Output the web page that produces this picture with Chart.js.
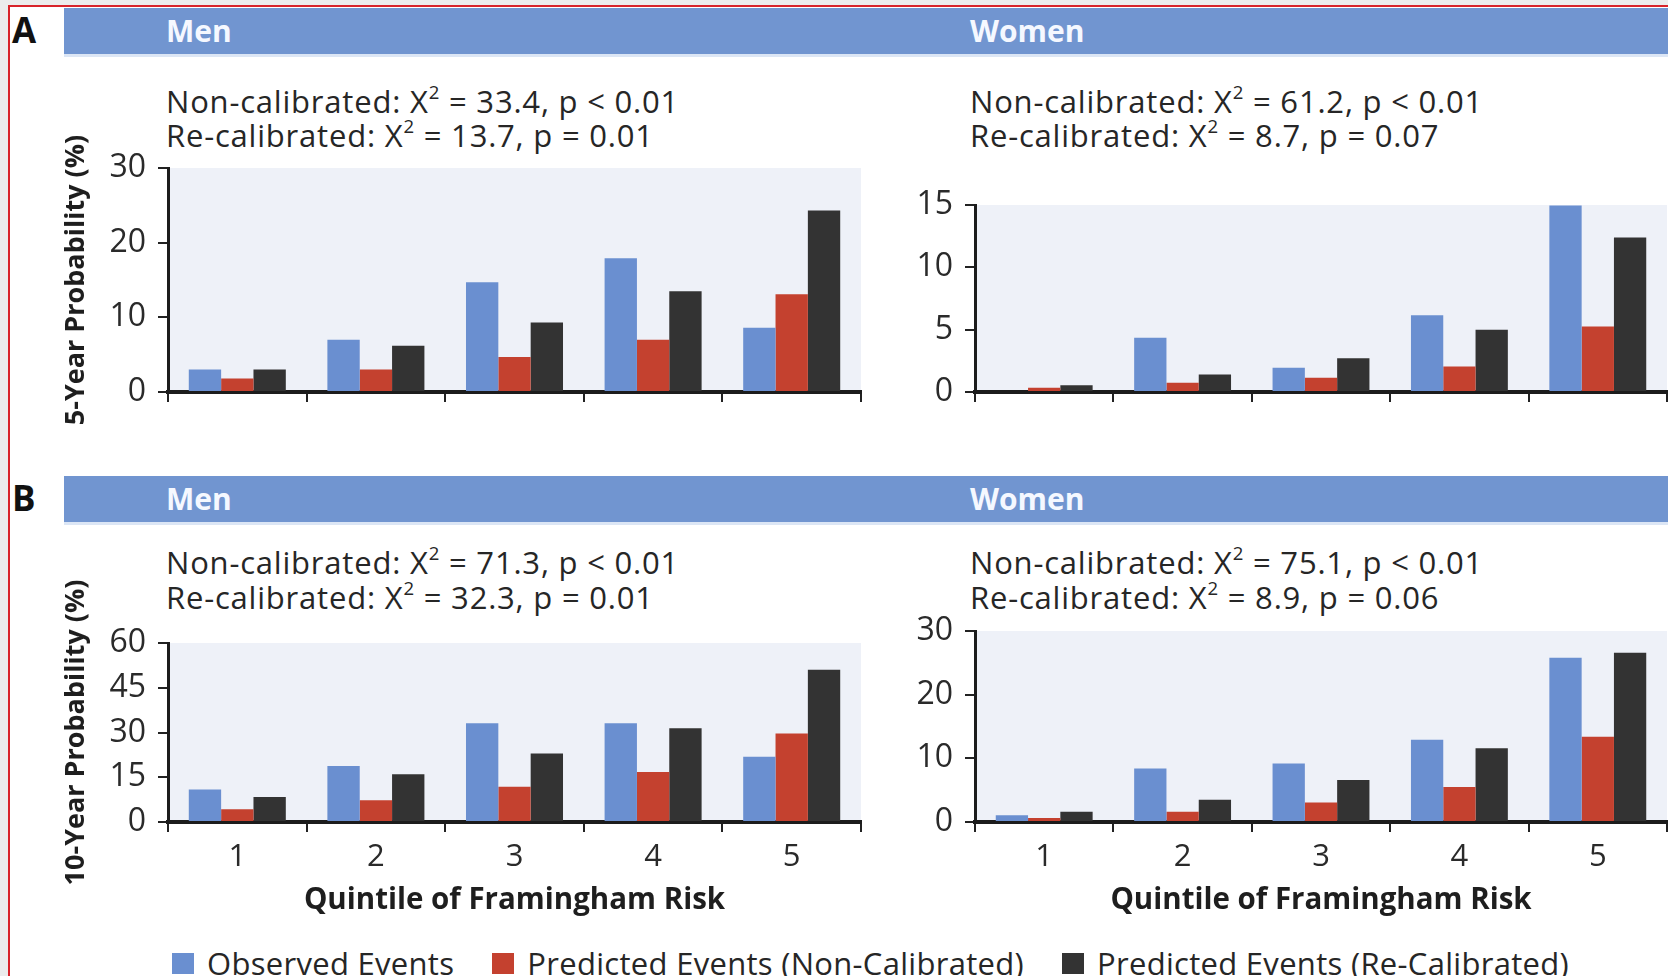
<!DOCTYPE html>
<html>
<head>
<meta charset="utf-8">
<script src="https://cdn.jsdelivr.net/npm/chart.js@4.4.1/dist/chart.umd.min.js"></script>
<style>
  html, body {
    margin: 0;
    padding: 0;
    width: 1668px;
    height: 976px;
    overflow: hidden;
    background: #ececec;
    font-family: "Open Sans", "Noto Sans", sans-serif;
    color: #222;
  }
  #Frame {
    position: absolute;
    left: 8px;
    top: 5px;
    width: 1700px;
    height: 1000px;
    background: #fff;
    border-left: 2px solid #d8232a;
    border-top: 2px solid #d8232a;
  }
  .Letter {
    position: absolute;
    left: 12px;
    font-size: 35px;
    font-weight: 700;
    line-height: 40px;
    color: #111;
  }
  .Band {
    position: absolute;
    left: 64px;
    width: 1620px;
    height: 46px;
    background: #7195d0;
    box-shadow: 0 3px 0 #dce6f5;
  }
  .BandLabel {
    position: absolute;
    top: 0;
    line-height: 46px;
    font-size: 30px;
    font-weight: 700;
    color: #f5f8ff;
  }
  .Stat {
    position: absolute;
    font-size: 31px;
    font-weight: 500;
    letter-spacing: 0.8px;
    white-space: nowrap;
    color: #262626;
  }
  .Stat .Sup {
    font-size: 0.6em;
    line-height: 0;
    vertical-align: 0.75em;
  }
  canvas {
    position: absolute;
  }
  #Legend {
    position: absolute;
    left: 172px;
    top: 942px;
    display: flex;
    align-items: center;
    font-size: 31px;
    font-weight: 500;
    letter-spacing: 0.3px;
    white-space: nowrap;
    color: #262626;
  }
  .LegendItem {
    display: flex;
    align-items: center;
    margin-right: 38px;
  }
  .LegendSwatch {
    width: 22px;
    height: 21px;
    margin-right: 13px;
  }
</style>
</head>
<body>
<div id="Frame"></div>

<div class="Letter" style="top:10px">A</div>
<div class="Band" style="top:8px">
  <div class="BandLabel" style="left:102px">Men</div>
  <div class="BandLabel" style="left:906px">Women</div>
</div>
<div class="Stat" style="left:166px; top:84px; line-height:34px">
  Non-calibrated: X<span class="Sup">2</span> = 33.4, p &lt; 0.01<br>Re-calibrated: X<span class="Sup">2</span> = 13.7, p = 0.01
</div>
<div class="Stat" style="left:970px; top:84px; line-height:34px">
  Non-calibrated: X<span class="Sup">2</span> = 61.2, p &lt; 0.01<br>Re-calibrated: X<span class="Sup">2</span> = 8.7, p = 0.07
</div>

<div class="Letter" style="top:478px">B</div>
<div class="Band" style="top:476px">
  <div class="BandLabel" style="left:102px">Men</div>
  <div class="BandLabel" style="left:906px">Women</div>
</div>
<div class="Stat" style="left:166px; top:545px; line-height:35px">
  Non-calibrated: X<span class="Sup">2</span> = 71.3, p &lt; 0.01<br>Re-calibrated: X<span class="Sup">2</span> = 32.3, p = 0.01
</div>
<div class="Stat" style="left:970px; top:545px; line-height:35px">
  Non-calibrated: X<span class="Sup">2</span> = 75.1, p &lt; 0.01<br>Re-calibrated: X<span class="Sup">2</span> = 8.9, p = 0.06
</div>

<canvas id="Men5"></canvas>
<canvas id="Women5"></canvas>
<canvas id="Men10"></canvas>
<canvas id="Women10"></canvas>

<div id="Legend"></div>

<script>
const quintiles = ["1", "2", "3", "4", "5"];
const seriesNames = [
  "Observed Events",
  "Predicted Events (Non-Calibrated)",
  "Predicted Events (Re-Calibrated)",
];

// 5-year probability (%)
const men5Observed = [3.0, 7.0, 14.7, 17.9, 8.6];
const men5NonCalibrated = [1.8, 3.0, 4.7, 7.0, 13.1];
const men5ReCalibrated = [3.0, 6.2, 9.3, 13.5, 24.3];
const women5Observed = [0, 4.35, 1.95, 6.15, 14.95];
const women5NonCalibrated = [0.35, 0.75, 1.15, 2.05, 5.25];
const women5ReCalibrated = [0.55, 1.4, 2.7, 5.0, 12.4];

// 10-year probability (%)
const men10Observed = [10.9, 18.8, 33.1, 33.1, 21.9];
const men10NonCalibrated = [4.3, 7.3, 11.8, 16.8, 29.7];
const men10ReCalibrated = [8.4, 16.0, 23.0, 31.4, 51.0];
const women10Observed = [1.05, 8.4, 9.2, 12.9, 25.8];
const women10NonCalibrated = [0.63, 1.6, 3.05, 5.5, 13.4];
const women10ReCalibrated = [1.6, 3.5, 6.6, 11.6, 26.6];

// y tick labels per panel
const men5Ticks = [0, 10, 20, 30];
const women5Ticks = [0, 5, 10, 15];
const men10Ticks = [0, 15, 30, 45, 60];
const women10Ticks = [0, 10, 20, 30];

const seriesColors = ["#6a8fd0", "#c4412f", "#333333"];
const fontFamily = '"Open Sans", "Noto Sans", sans-serif';

const plotBackground = {
  id: "plotBackground",
  beforeDraw(chart) {
    const { ctx, chartArea } = chart;
    ctx.save();
    ctx.fillStyle = "#eef1f8";
    ctx.fillRect(chartArea.left, chartArea.top, chartArea.width, chartArea.height);
    ctx.restore();
  },
};

// area = where the plot box should land on the page
function drawPanel(id, area, series, ticks, yTitle, showXLabels) {
  const canvas = document.getElementById(id);
  const yWidth = 105;
  const padTop = 90;
  const xHeight = showXLabels ? 96 : 60;
  const left = area.left - yWidth;
  const top = area.top - padTop;
  const width = area.right + 3 - left;
  const height = area.bottom + xHeight - top;

  canvas.style.left = left + "px";
  canvas.style.top = top + "px";
  canvas.width = width;
  canvas.height = height;

  const step = ticks[1] - ticks[0];

  return new Chart(canvas, {
    type: "bar",
    data: {
      labels: quintiles,
      datasets: series.map((values, index) => ({
        label: seriesNames[index],
        data: values,
        backgroundColor: seriesColors[index],
        categoryPercentage: 0.7,
        barPercentage: 1.0,
      })),
    },
    plugins: [plotBackground],
    options: {
      responsive: false,
      animation: false,
      layout: {
        padding: { top: padTop, right: 3, left: 0, bottom: 0 },
      },
      plugins: {
        legend: { display: false },
        tooltip: { enabled: false },
      },
      scales: {
        x: {
          afterFit: (scale) => {
            scale.height = xHeight;
          },
          grid: {
            offset: true,
            drawOnChartArea: false,
            tickLength: 10,
            lineWidth: 2,
            color: "#222",
          },
          border: { color: "#1c1c1c", width: 4 },
          ticks: {
            display: showXLabels,
            padding: 7,
            color: "#2a2a2a",
            font: { family: fontFamily, size: 31 },
          },
          title: {
            display: showXLabels,
            text: "Quintile of Framingham Risk",
            color: "#1e1e1e",
            padding: { top: 0, bottom: 0 },
            font: { family: fontFamily, size: 29.5, weight: "bold" },
          },
        },
        y: {
          min: ticks[0],
          max: ticks[ticks.length - 1],
          afterFit: (scale) => {
            scale.width = yWidth;
          },
          grid: {
            drawOnChartArea: false,
            tickLength: 10,
            lineWidth: 2,
            color: "#222",
          },
          border: { color: "#1c1c1c", width: 3 },
          ticks: {
            stepSize: step,
            padding: 12,
            color: "#2a2a2a",
            font: { family: fontFamily, size: 32 },
          },
          title: {
            display: Boolean(yTitle),
            text: yTitle,
            color: "#1e1e1e",
            padding: 0,
            font: { family: fontFamily, size: 27, weight: "bold", lineHeight: 1 },
          },
        },
      },
    },
  });
}

drawPanel(
  "Men5",
  { left: 168, top: 168, right: 861, bottom: 392 },
  [men5Observed, men5NonCalibrated, men5ReCalibrated],
  men5Ticks,
  "5-Year Probability (%)",
  false,
);
drawPanel(
  "Women5",
  { left: 975, top: 205, right: 1667, bottom: 392 },
  [women5Observed, women5NonCalibrated, women5ReCalibrated],
  women5Ticks,
  "",
  false,
);
drawPanel(
  "Men10",
  { left: 168, top: 643, right: 861, bottom: 822 },
  [men10Observed, men10NonCalibrated, men10ReCalibrated],
  men10Ticks,
  "10-Year Probability (%)",
  true,
);
drawPanel(
  "Women10",
  { left: 975, top: 631, right: 1667, bottom: 822 },
  [women10Observed, women10NonCalibrated, women10ReCalibrated],
  women10Ticks,
  "",
  true,
);

const legend = document.getElementById("Legend");
seriesNames.forEach((name, index) => {
  const item = document.createElement("div");
  item.className = "LegendItem";
  const swatch = document.createElement("span");
  swatch.className = "LegendSwatch";
  swatch.style.background = seriesColors[index];
  const text = document.createElement("span");
  text.textContent = name;
  item.append(swatch, text);
  legend.append(item);
});
</script>
</body>
</html>
